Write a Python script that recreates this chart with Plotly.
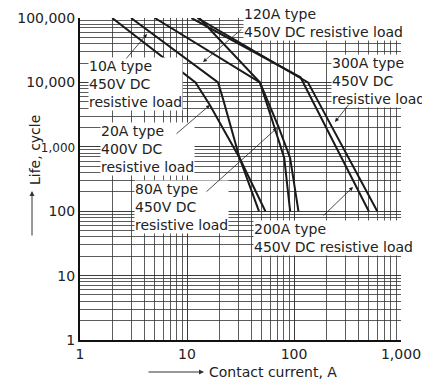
import plotly.graph_objects as go

# ---- data ----
x_10A = [2, 12, 16.3, 31, 54]
y_10A = [100000, 10000, 4500, 670, 100]
x_20A = [3, 19.5, 21.6, 31, 47]
y_20A = [100000, 10000, 5700, 670, 100]
x_80A = [5, 48, 66, 81, 92]
y_80A = [100000, 10000, 1960, 670, 100]
x_120A = [13, 48, 72, 92, 110]
y_120A = [100000, 10000, 2000, 670, 100]
x_200A = [11, 115, 500]
y_200A = [100000, 12000, 100]
x_300A = [12.5, 135, 600]
y_300A = [100000, 10000, 100]

x_tickvals = [1, 10, 100, 1000]
x_ticktext = ["1", "10", "100", "1,000"]
y_tickvals = [1, 10, 100, 1000, 10000, 100000]
y_ticktext = ["1", "10", "100", "<span style='font-size:12px'>1,000</span>",
              "10,000", "100,000"]

FONT = "DejaVu Sans"
LINE = "#1a1a1a"
TXT = "#222"

W, H = 422, 383
SL, SR, ST, SB = 80, 401, 18, 340          # plot area in screen pixels
L, R, T, B = SL, W - SR, ST, H - SB
pw, ph = SR - SL, SB - ST

def px(sx):
    return (sx - SL) / pw

def py(sy):
    return 1 - (sy - ST) / ph

fig = go.Figure()
for xs, ys in [(x_10A, y_10A), (x_20A, y_20A), (x_80A, y_80A),
               (x_120A, y_120A), (x_200A, y_200A), (x_300A, y_300A)]:
    fig.add_trace(go.Scatter(x=xs, y=ys, mode="lines",
                             line=dict(color=LINE, width=2), showlegend=False,
                             hoverinfo="skip"))

axis_common = dict(type="log", showgrid=True, gridcolor="#333", gridwidth=0.8,
                   minor=dict(showgrid=True, gridcolor="#333", gridwidth=0.8, dtick="D1"),
                   showline=True, linecolor="#111", linewidth=2, ticks="",
                   tickfont=dict(family=FONT, size=14, color=TXT), zeroline=False,
                   automargin=False)
fig.update_xaxes(range=[0, 3], tickvals=x_tickvals, ticktext=x_ticktext, **axis_common)
fig.update_yaxes(range=[0, 5], tickvals=y_tickvals, ticktext=y_ticktext, **axis_common)

annos = [
    ("10A type<br>450V DC<br>resistive load", 88, 57),
    ("20A type<br>400V DC<br>resistive load", 100, 122),
    ("80A type<br>450V DC<br>resistive load", 134, 180),
    ("120A type<br>450V DC resistive load", 243, 5),
    ("300A type<br>450V DC<br>resistive load", 331, 54),
    ("200A type<br>450V DC resistive load", 253, 220),
]
for text, x0, y0 in annos:
    fig.add_annotation(text=text, xref="paper", yref="paper",
                       x=px(x0), y=py(y0), xanchor="left", yanchor="top", align="left",
                       showarrow=False, bgcolor="white", borderpad=0,
                       font=dict(family=FONT, size=14, color=TXT))

# arrows from labels to curves (tail sx0,sy0 -> head sx1,sy1 in screen pixels)
arrows = [
    (125, 60, 147, 34),
    (175, 135, 210, 105),
    (243, 28, 203, 62),
    (205, 193, 277, 128),
    (322, 217, 353, 187),
    (350, 103, 335, 122),
]
for x0, y0, x1, y1 in arrows:
    fig.add_annotation(xref="paper", yref="paper", x=px(x1), y=py(y1),
                       ax=x0 - x1, ay=y0 - y1, text="",
                       showarrow=True, arrowhead=2, arrowsize=1, arrowwidth=0.8,
                       arrowcolor=TXT)

# axis titles with arrows
fig.add_annotation(xref="paper", yref="paper", x=px(207), y=py(372),
                   text="Contact current, A", showarrow=False, xanchor="left",
                   yanchor="middle", font=dict(family=FONT, size=14, color=TXT))
fig.add_annotation(xref="paper", yref="paper", x=px(204), y=py(372),
                   ax=147 - 204, ay=0, text="", showarrow=True, arrowhead=2,
                   arrowwidth=1, arrowcolor="#333")
fig.add_annotation(xref="paper", yref="paper", x=px(35), y=py(187),
                   text="Life, cycle", textangle=-90, showarrow=False, xanchor="center",
                   yanchor="bottom", font=dict(family=FONT, size=14, color=TXT))
fig.add_annotation(xref="paper", yref="paper", x=px(32), y=py(191),
                   ax=0, ay=237 - 191, text="", showarrow=True, arrowhead=2,
                   arrowwidth=1, arrowcolor="#333")

fig.update_layout(width=W, height=H, margin=dict(l=L, r=R, t=T, b=B, autoexpand=False),
                  plot_bgcolor="white", paper_bgcolor="white", hovermode=False)
fig.write_html("out.html", config={"displayModeBar": False, "staticPlot": True},
               post_script="document.body.style.margin='0';document.body.style.overflow='hidden';")
